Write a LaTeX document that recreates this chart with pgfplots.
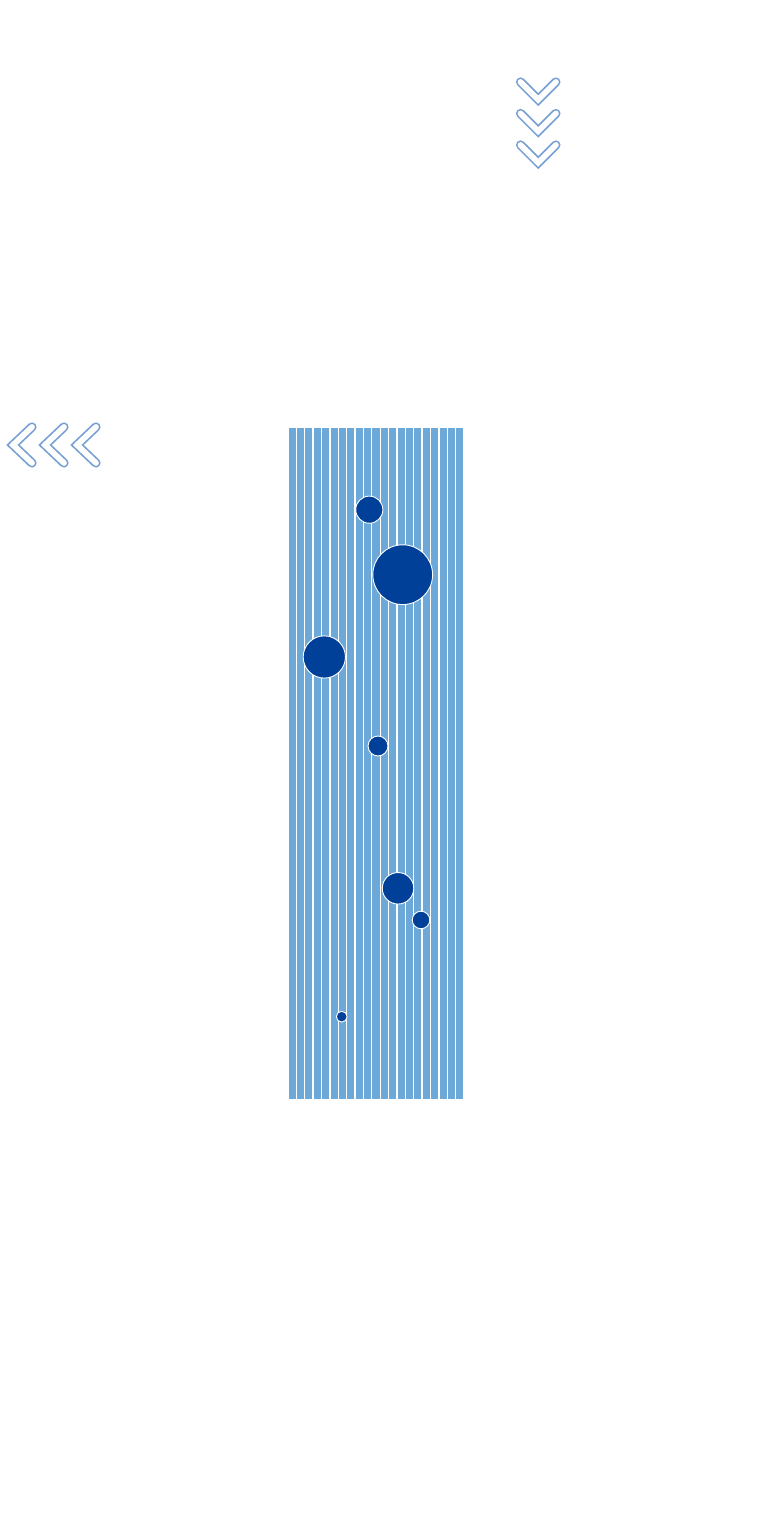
\documentclass[border=0pt]{standalone}
\usepackage{pgfplots}
\pgfplotsset{compat=1.18}
\usepackage{pgfplotstable}
\definecolor{stripeblue}{RGB}{108,168,216}
\definecolor{bubbleblue}{RGB}{0,64,152}
\definecolor{chevblue}{RGB}{118,160,212}

\pgfplotstableread{
x y
288.00 673
296.38 673
304.76 673
313.14 673
321.52 673
329.90 673
338.29 673
346.67 673
355.05 673
363.43 673
371.81 673
380.19 673
388.57 673
396.95 673
405.33 673
413.71 673
422.10 673
430.48 673
438.86 673
447.24 673
455.62 673
464.00 673
}\stripes

\pgfplotstableread{
x y r
369.3 590.3 13.6
402.7 525.3 30.0
324.3 443.0 21.2
378.0 354.0 10.0
398.0 211.7 15.8
421.0 180.0 8.8
341.7 83.3 5.4
}\bubbles

\begin{document}
\begin{tikzpicture}
\begin{axis}[
  scale only axis,
  width=783bp, height=1521bp,
  xmin=0, xmax=783,
  ymin=-421, ymax=1100,
  hide axis,
  clip=false,
  chev/.style={draw=chevblue, line width=1.7bp, double=white, double distance=5.8bp, line cap=round, line join=miter, mark=none},
]
\path (rel axis cs:0,0) rectangle (rel axis cs:1,1);
\addplot[ybar interval, fill=stripeblue, draw=white, line width=1.3bp] table[x=x,y=y] {\stripes};

\addplot[scatter, only marks, mark=*,
  point meta=\thisrow{r},
  scatter/use mapped color={draw=white, fill=bubbleblue},
  visualization depends on={\thisrow{r}\as\rad},
  scatter/@pre marker code/.append style={/tikz/mark size=\rad},
  line width=0.9bp] table[x=x,y=y] {\bubbles};

% down chevrons
\addplot[chev] coordinates {(520.5,1018) (538.2,1000.3) (555.9,1018)};
\addplot[chev] coordinates {(520.5,986.5) (538.2,968.8) (555.9,986.5)};
\addplot[chev] coordinates {(520.5,955) (538.2,937.3) (555.9,955)};
% left chevrons
\addplot[chev] coordinates {(32,673) (13,655) (32,637)};
\addplot[chev] coordinates {(64,673) (45,655) (64,637)};
\addplot[chev] coordinates {(96,673) (77,655) (96,637)};
\end{axis}
\end{tikzpicture}
\end{document}
